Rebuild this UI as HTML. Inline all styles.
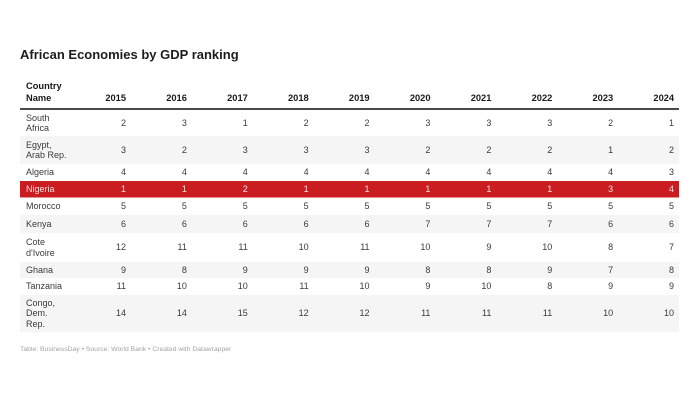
<!DOCTYPE html>
<html>
<head>
<meta charset="utf-8">
<style>
  html,body{margin:0;padding:0;background:#fff;}
  body{width:700px;height:400px;position:relative;overflow:hidden;font-family:"Liberation Sans",Arial,sans-serif;}
  .title{position:absolute;left:20px;top:48px;font-size:13px;line-height:13px;font-weight:bold;color:#1d1d1d;white-space:nowrap;}
  .hdr{position:absolute;font-size:9.3px;line-height:12px;font-weight:bold;color:#1a1a1a;white-space:nowrap;}
  .yr{text-align:right;width:50px;}
  .hline{position:absolute;left:20px;top:108px;width:659px;height:2px;background:#4a4a4a;}
  table{position:absolute;left:20px;top:110px;width:659px;border-collapse:collapse;table-layout:fixed;border-spacing:0;}
  td{padding:0 5px 0 0;font-size:9px;line-height:10.3px;color:#3a3a3a;text-align:right;vertical-align:middle;white-space:nowrap;overflow:visible;}
  td.n{text-align:left;padding-left:6px;padding-right:0;}
  tr.g td{background:#f5f5f5;}
  tr.r td{background:#c91d21;color:#f8dede;}
  .pink{position:absolute;left:20px;top:197px;width:659px;height:1px;background:#ec8d8f;}
  .foot{position:absolute;left:20px;top:344.5px;font-size:6.8px;line-height:10px;color:#a3a3a3;white-space:nowrap;}
</style>
</head>
<body>
<div class="title">African Economies by GDP ranking</div>

<div class="hdr" style="left:26px;top:79.8px;">Country<br>Name</div>
<div class="hdr yr" style="left:76px;top:91.8px;">2015</div>
<div class="hdr yr" style="left:136.9px;top:91.8px;">2016</div>
<div class="hdr yr" style="left:197.8px;top:91.8px;">2017</div>
<div class="hdr yr" style="left:258.7px;top:91.8px;">2018</div>
<div class="hdr yr" style="left:319.6px;top:91.8px;">2019</div>
<div class="hdr yr" style="left:380.5px;top:91.8px;">2020</div>
<div class="hdr yr" style="left:441.4px;top:91.8px;">2021</div>
<div class="hdr yr" style="left:502.3px;top:91.8px;">2022</div>
<div class="hdr yr" style="left:563.2px;top:91.8px;">2023</div>
<div class="hdr yr" style="left:624.1px;top:91.8px;">2024</div>

<div class="hline"></div>

<table>
  <colgroup>
    <col style="width:50.1px">
    <col style="width:60.9px"><col style="width:60.9px"><col style="width:60.9px"><col style="width:60.9px"><col style="width:60.9px">
    <col style="width:60.9px"><col style="width:60.9px"><col style="width:60.9px"><col style="width:60.9px"><col style="width:60.9px">
  </colgroup>
  <tr style="height:26px"><td class="n">South<br>Africa</td><td>2</td><td>3</td><td>1</td><td>2</td><td>2</td><td>3</td><td>3</td><td>3</td><td>2</td><td>1</td></tr>
  <tr class="g" style="height:28px"><td class="n">Egypt,<br>Arab Rep.</td><td>3</td><td>2</td><td>3</td><td>3</td><td>3</td><td>2</td><td>2</td><td>2</td><td>1</td><td>2</td></tr>
  <tr style="height:17px"><td class="n">Algeria</td><td>4</td><td>4</td><td>4</td><td>4</td><td>4</td><td>4</td><td>4</td><td>4</td><td>4</td><td>3</td></tr>
  <tr class="r" style="height:17px"><td class="n">Nigeria</td><td>1</td><td>1</td><td>2</td><td>1</td><td>1</td><td>1</td><td>1</td><td>1</td><td>3</td><td>4</td></tr>
  <tr style="height:17px"><td class="n">Morocco</td><td>5</td><td>5</td><td>5</td><td>5</td><td>5</td><td>5</td><td>5</td><td>5</td><td>5</td><td>5</td></tr>
  <tr class="g" style="height:18px"><td class="n">Kenya</td><td>6</td><td>6</td><td>6</td><td>6</td><td>6</td><td>7</td><td>7</td><td>7</td><td>6</td><td>6</td></tr>
  <tr style="height:29px"><td class="n">Cote<br>d'Ivoire</td><td>12</td><td>11</td><td>11</td><td>10</td><td>11</td><td>10</td><td>9</td><td>10</td><td>8</td><td>7</td></tr>
  <tr class="g" style="height:16px"><td class="n">Ghana</td><td>9</td><td>8</td><td>9</td><td>9</td><td>9</td><td>8</td><td>8</td><td>9</td><td>7</td><td>8</td></tr>
  <tr style="height:17px"><td class="n">Tanzania</td><td>11</td><td>10</td><td>10</td><td>11</td><td>10</td><td>9</td><td>10</td><td>8</td><td>9</td><td>9</td></tr>
  <tr class="g" style="height:37px"><td class="n">Congo,<br>Dem.<br>Rep.</td><td>14</td><td>14</td><td>15</td><td>12</td><td>12</td><td>11</td><td>11</td><td>11</td><td>10</td><td>10</td></tr>
</table>

<div class="pink"></div>

<div class="foot">Table: BusinessDay • Source: World Bank • Created with Datawrapper</div>
</body>
</html>
